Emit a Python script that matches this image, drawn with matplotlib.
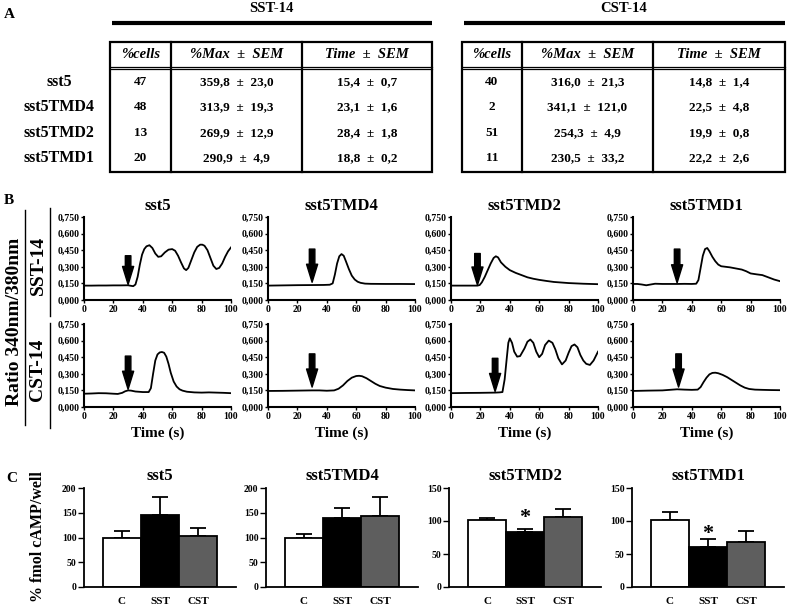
import matplotlib.pyplot as plt
from matplotlib.patches import Rectangle

plt.rcParams['font.family'] = ['Liberation Serif', 'DejaVu Serif']
plt.rcParams['font.weight'] = 'bold'
plt.rcParams['axes.labelweight'] = 'bold'
plt.rcParams['axes.titleweight'] = 'bold'

# Data ==========================
receptors = ['sst5', 'sst5TMD4', 'sst5TMD2', 'sst5TMD1']

# panel A table
headers = ['%cells', '%Max  \u00b1  SEM', 'Time  \u00b1  SEM']
sst_cells = [47, 48, 13, 20]
sst_max = [359.8, 313.9, 269.9, 290.9]
sst_max_sem = [23.0, 19.3, 12.9, 4.9]
sst_time = [15.4, 23.1, 28.4, 18.8]
sst_time_sem = [0.7, 1.6, 1.8, 0.2]
cst_cells = [40, 2, 51, 11]
cst_max = [316.0, 341.1, 254.3, 230.5]
cst_max_sem = [21.3, 121.0, 4.9, 33.2]
cst_time = [14.8, 22.5, 19.9, 22.2]
cst_time_sem = [1.4, 4.8, 0.8, 2.6]

# panel B traces, ratio 340/380 vs time (s)
sst5_sst_t = [0, 5, 10, 15, 20, 25, 30, 32, 33.5, 35, 36.5, 38, 39.5, 41, 42.5, 44.5, 46.5, 48.5, 50.5, 52.5,
              55, 57.5, 60, 62, 64, 66, 68, 69.5, 71, 73, 75, 77, 79, 80.5, 82, 84, 86, 88, 90, 92, 94, 96, 98, 100]
sst5_sst_v = [0.130, 0.130, 0.131, 0.131, 0.132, 0.132, 0.133, 0.128, 0.125, 0.140, 0.210, 0.320, 0.410, 0.460,
              0.485, 0.495, 0.470, 0.420, 0.390, 0.395, 0.430, 0.455, 0.460, 0.445, 0.400, 0.340, 0.285, 0.270,
              0.290, 0.360, 0.430, 0.480, 0.500, 0.500, 0.490, 0.450, 0.380, 0.310, 0.280, 0.290, 0.330, 0.390,
              0.440, 0.475]
tmd4_sst_t = [0, 10, 20, 30, 38, 42, 44, 45.5, 47, 48.5, 50, 51.5, 53, 55, 57, 59, 61, 63, 66, 70, 80, 90, 100]
tmd4_sst_v = [0.130, 0.132, 0.134, 0.135, 0.136, 0.138, 0.150, 0.230, 0.330, 0.395, 0.415, 0.400, 0.350, 0.280,
              0.220, 0.185, 0.165, 0.155, 0.148, 0.146, 0.145, 0.145, 0.144]
tmd2_sst_t = [0, 5, 10, 15, 18, 19.5, 21, 23, 25, 27, 29, 30.5, 32, 34, 37, 40, 44, 48, 52, 56, 60, 65, 70, 75,
              80, 85, 90, 95, 100]
tmd2_sst_v = [0.130, 0.130, 0.130, 0.130, 0.130, 0.135, 0.160, 0.210, 0.270, 0.330, 0.380, 0.395, 0.385, 0.340,
              0.300, 0.270, 0.245, 0.225, 0.205, 0.192, 0.182, 0.172, 0.163, 0.158, 0.153, 0.150, 0.147, 0.145,
              0.143]
tmd1_sst_t = [0, 3, 6, 9, 12, 15, 20, 25, 30, 35, 40, 43, 44.5, 46, 47.5, 49, 50.5, 52, 54, 56, 58, 60, 63, 66,
              70, 74, 77, 80, 84, 88, 90, 93, 96, 100]
tmd1_sst_v = [0.145, 0.145, 0.140, 0.133, 0.140, 0.147, 0.145, 0.145, 0.145, 0.146, 0.145, 0.147, 0.180, 0.290,
              0.400, 0.460, 0.470, 0.440, 0.390, 0.350, 0.320, 0.305, 0.300, 0.295, 0.285, 0.275, 0.260, 0.240,
              0.232, 0.225, 0.215, 0.200, 0.185, 0.170]
sst5_cst_t = [0, 5, 10, 15, 20, 23, 26, 28, 30, 32, 35, 40, 44, 45.5, 47, 48.5, 50, 51.5, 53, 54.5, 56, 57.5,
              59, 61, 63, 65, 67, 70, 75, 80, 85, 90, 95, 100]
sst5_cst_v = [0.120, 0.122, 0.125, 0.124, 0.120, 0.118, 0.128, 0.142, 0.150, 0.148, 0.140, 0.135, 0.135, 0.170,
              0.300, 0.420, 0.475, 0.493, 0.497, 0.490, 0.455, 0.390, 0.310, 0.230, 0.185, 0.160, 0.148, 0.138,
              0.132, 0.130, 0.132, 0.130, 0.128, 0.125]
tmd4_cst_t = [0, 10, 20, 30, 35, 40, 45, 48, 51, 54, 57, 60, 62, 64, 67, 70, 73, 76, 80, 85, 90, 95, 100]
tmd4_cst_v = [0.145, 0.146, 0.148, 0.150, 0.150, 0.147, 0.150, 0.165, 0.195, 0.235, 0.265, 0.280, 0.282, 0.278,
              0.260, 0.235, 0.210, 0.190, 0.175, 0.163, 0.157, 0.153, 0.150]
tmd2_cst_t = [0, 10, 20, 30, 33, 35, 36.5, 38, 39, 40, 41.5, 43, 45, 47, 50, 52, 54, 56, 58, 60, 62, 64, 66.5,
              69, 71, 73, 75.5, 78, 80, 82, 84, 86, 88, 90, 92, 94.5, 97, 100]
tmd2_cst_v = [0.125, 0.127, 0.128, 0.130, 0.132, 0.135, 0.250, 0.450, 0.580, 0.620, 0.580, 0.500, 0.455, 0.460,
              0.530, 0.590, 0.610, 0.580, 0.500, 0.450, 0.480, 0.560, 0.600, 0.580, 0.520, 0.440, 0.385, 0.420,
              0.490, 0.550, 0.565, 0.540, 0.470, 0.420, 0.390, 0.380, 0.420, 0.500]
tmd1_cst_t = [0, 10, 20, 25, 30, 35, 40, 44, 46, 48, 50, 52, 54, 56, 58, 61, 64, 67, 70, 73, 76, 79, 83, 88,
              94, 100]
tmd1_cst_v = [0.145, 0.148, 0.150, 0.155, 0.160, 0.157, 0.155, 0.157, 0.180, 0.225, 0.265, 0.295, 0.308, 0.310,
              0.305, 0.290, 0.270, 0.245, 0.220, 0.195, 0.175, 0.163, 0.157, 0.155, 0.153, 0.152]

# stimulus arrows (time, top, tip)
sst_arrow_x = [30, 30, 18, 30]
sst_arrow_top = [0.40, 0.46, 0.42, 0.46]
sst_arrow_tip = [0.14, 0.16, 0.135, 0.155]
cst_arrow_x = [30, 30, 30, 31]
cst_arrow_top = [0.46, 0.48, 0.44, 0.48]
cst_arrow_tip = [0.16, 0.18, 0.14, 0.18]

b_yticks = [0, 0.15, 0.30, 0.45, 0.60, 0.75]
b_xticks = [0, 20, 40, 60, 80, 100]

# panel C, % fmol cAMP/well
c_groups = ['C', 'SST', 'CST']
camp_sst5 = [100, 146, 104]
camp_sst5_err = [13, 36, 15]
camp_tmd4 = [100, 139, 143]
camp_tmd4_err = [8, 20, 38]
camp_tmd2 = [101, 83, 106]
camp_tmd2_err = [4, 5.5, 12]
camp_tmd1 = [101, 60, 68]
camp_tmd1_err = [12, 12, 17]
camp_ymax = [200, 200, 150, 150]
star_y = [None, None, 104, 81]

# Figure ========================
W, H = 789, 607
fig = plt.figure(figsize=(W / 100, H / 100), dpi=100)


def rect(x, y, w, h):
    return [x / W, 1 - (y + h) / H, w / W, h / H]


def comma(v, nd=1):
    return f'{v:.{nd}f}'.replace('.', ',')


ov = fig.add_axes([0, 0, 1, 1])
ov.set_xlim(0, W)
ov.set_ylim(H, 0)
ov.axis('off')

# Panel A =======================
ov.text(9, 14, 'A', ha='center', va='center', fontsize=11)
row_y = [82, 107, 133, 158]
for name, yy in zip(receptors, row_y):
    ov.text(59, yy, name, ha='center', va='center', fontsize=11.5)


def draw_table(x0, x1, c1, c2, title, cells, mx, mx_sem, tm, tm_sem):
    top, hdr, bot = 42, 68, 172
    ov.text((x0 + x1) / 2, 9, title, ha='center', va='center', fontsize=10.5)
    ov.plot([x0 + 2, x1], [23, 23], color='k', lw=3, solid_capstyle='butt')
    ov.add_patch(Rectangle((x0, top), x1 - x0, bot - top, fill=False, lw=1.6, ec='k'))
    for xc in (c1, c2):
        ov.plot([xc, xc], [top, bot], color='k', lw=1.6)
    ov.plot([x0, x1], [hdr - 1.3] * 2, color='k', lw=0.9)
    ov.plot([x0, x1], [hdr + 1.3] * 2, color='k', lw=0.9)
    centres = [(x0 + c1) / 2, (c1 + c2) / 2, (c2 + x1) / 2]
    for xc, h in zip(centres, headers):
        ov.text(xc, 55, h, ha='center', va='center', style='italic', fontsize=10.5)
    for i, yy in enumerate(row_y):
        vals = [str(cells[i]),
                f'{comma(mx[i])}  \u00b1  {comma(mx_sem[i])}',
                f'{comma(tm[i])}  \u00b1  {comma(tm_sem[i])}']
        for xc, s in zip(centres, vals):
            ov.text(xc, yy, s, ha='center', va='center', fontsize=9.5)


draw_table(110, 432, 171, 302, 'SST-14', sst_cells, sst_max, sst_max_sem, sst_time, sst_time_sem)
draw_table(462, 785, 522, 653, 'CST-14', cst_cells, cst_max, cst_max_sem, cst_time, cst_time_sem)

# Panel B =======================
ov.text(9, 200, 'B', ha='center', va='center', fontsize=11)
ov.text(15, 322, 'Ratio 340nm/380nm', rotation=90, ha='center', va='center', fontsize=14)
ov.plot([25, 25], [210, 425], color='k', lw=1)
ov.text(38, 265, 'SST-14', rotation=90, ha='center', va='center', fontsize=14)
ov.plot([50, 50], [208, 316], color='k', lw=1)
ov.text(38, 370, 'CST-14', rotation=90, ha='center', va='center', fontsize=14)
ov.plot([50, 50], [323, 428], color='k', lw=1)

b_lefts = [84, 268, 451, 633]
sst_traces = [(sst5_sst_t, sst5_sst_v), (tmd4_sst_t, tmd4_sst_v), (tmd2_sst_t, tmd2_sst_v), (tmd1_sst_t, tmd1_sst_v)]
cst_traces = [(sst5_cst_t, sst5_cst_v), (tmd4_cst_t, tmd4_cst_v), (tmd2_cst_t, tmd2_cst_v), (tmd1_cst_t, tmd1_cst_v)]
rows = [(217, sst_traces, sst_arrow_x, sst_arrow_top, sst_arrow_tip),
        (324, cst_traces, cst_arrow_x, cst_arrow_top, cst_arrow_tip)]

for r, (top, traces, ax_x, ax_top, ax_tip) in enumerate(rows):
    for j, left in enumerate(b_lefts):
        ax = fig.add_axes(rect(left, top, 147, 83))
        t, v = traces[j]
        ax.plot(t, v, color='k', lw=1.3)
        ax.annotate('', xy=(ax_x[j], ax_tip[j]), xytext=(ax_x[j], ax_top[j]),
                    arrowprops=dict(arrowstyle='simple,head_width=0.8,head_length=1.3,tail_width=0.4',
                                    mutation_scale=10, color='k', shrinkA=0, shrinkB=0))
        ax.set_xlim(0, 100)
        ax.set_ylim(0, 0.75)
        ax.set_yticks(b_yticks)
        ax.set_yticklabels([comma(y, 3) for y in b_yticks])
        ax.set_xticks(b_xticks)
        ax.tick_params(labelsize=7, length=2, width=1, pad=1.5)
        for s in ('top', 'right'):
            ax.spines[s].set_visible(False)
        for s in ('left', 'bottom'):
            ax.spines[s].set_linewidth(1.5)
        if r == 0:
            ax.set_title(receptors[j], fontsize=12, pad=5)
        else:
            ax.set_xlabel('Time (s)', fontsize=11, labelpad=4)

# Panel C =======================
ov.text(12, 478, 'C', ha='center', va='center', fontsize=11)
ov.text(38, 537, '% fmol cAMP/well', rotation=90, ha='center', va='center', fontsize=11.5)

c_lefts = [84, 266, 449, 632]
c_means = [camp_sst5, camp_tmd4, camp_tmd2, camp_tmd1]
c_errs = [camp_sst5_err, camp_tmd4_err, camp_tmd2_err, camp_tmd1_err]
c_colors = ['white', 'black', '#5e5e5e']
xs = range(len(c_groups))

for j, left in enumerate(c_lefts):
    ax = fig.add_axes(rect(left, 488, 152, 99))
    ax.errorbar(xs, c_means[j], yerr=[[0] * 3, c_errs[j]], fmt='none', ecolor='k',
                elinewidth=1.3, capsize=6, capthick=1.3, zorder=1)
    ax.bar(xs, c_means[j], width=1.0, color=c_colors, edgecolor='k', linewidth=1.3, zorder=2)
    if star_y[j] is not None:
        ax.text(1, star_y[j], '*', ha='center', va='center', fontsize=16)
    ax.set_xlim(-1, 3)
    ax.set_ylim(0, camp_ymax[j])
    ax.set_yticks(range(0, camp_ymax[j] + 1, 50))
    ax.set_xticks(list(xs))
    ax.set_xticklabels(c_groups)
    ax.tick_params(axis='y', labelsize=7, length=4, width=1, pad=1.5)
    ax.tick_params(axis='x', labelsize=8, length=0, pad=7)
    for s in ('top', 'right'):
        ax.spines[s].set_visible(False)
    for s in ('left', 'bottom'):
        ax.spines[s].set_linewidth(1.3)
    ax.set_title(receptors[j], fontsize=12, pad=6)

fig.savefig('out.png', dpi=100)
